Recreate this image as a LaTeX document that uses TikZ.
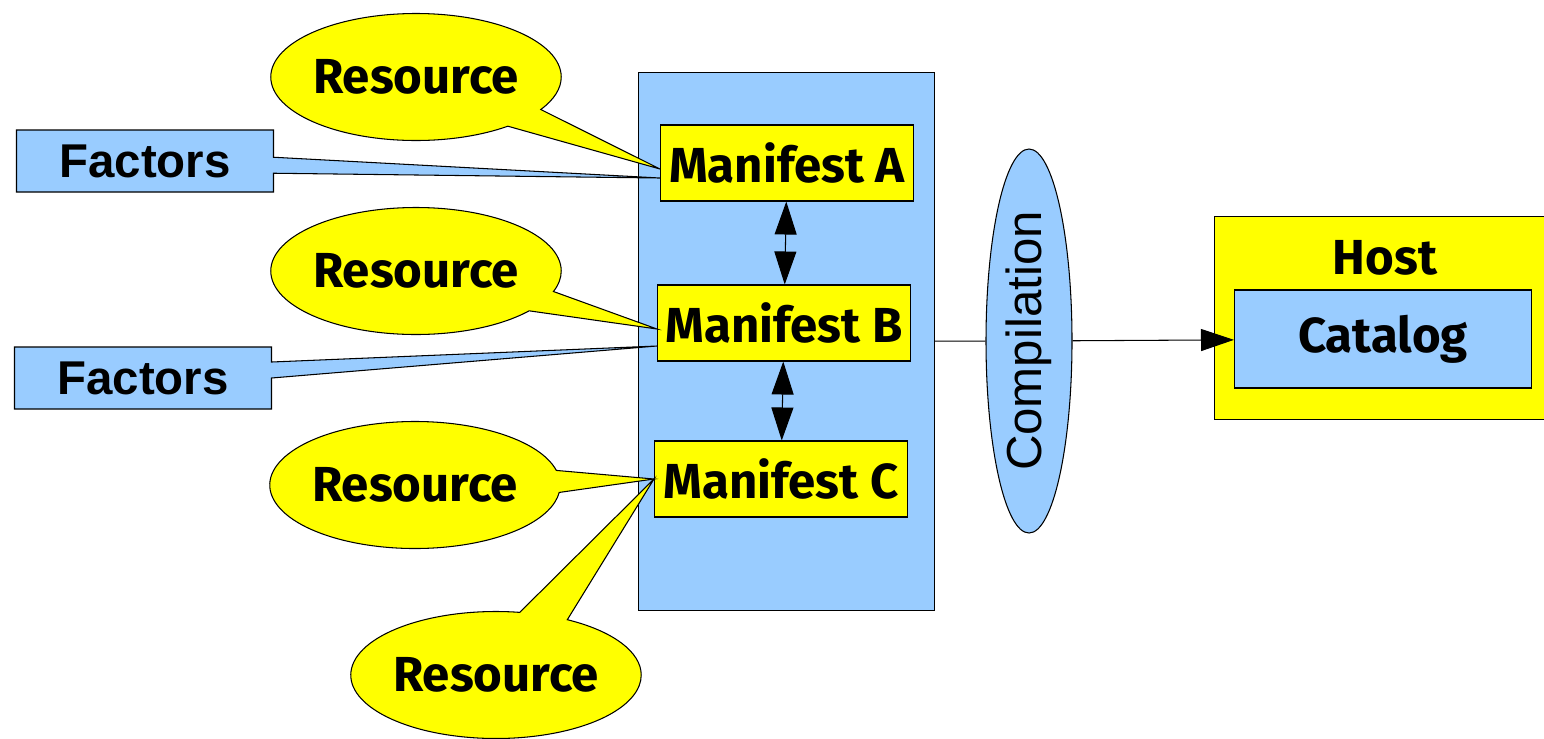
\documentclass[tikz,border=0pt]{standalone}
\usepackage{fontspec}
\setmainfont{Fira Sans}
\newfontfamily\arialfont{Liberation Sans}
\usetikzlibrary{shapes.geometric,shapes.callouts,arrows.meta,calc}
\definecolor{skyblue}{HTML}{99CCFF}
\definecolor{lemon}{HTML}{FFFF00}
\newcommand{\pxl}{0.02cm}

\begin{document}
\begin{tikzpicture}[x=\pxl, y=-\pxl, line width=0.6pt,
    >={Triangle[width=0.44cm,length=0.66cm]},
    label/.style={font=\fontsize{28}{33}\selectfont\bfseries},
    manifest/.style={draw, rectangle, fill=lemon, minimum width=253*\pxl, minimum height=76*\pxl, inner sep=0pt, label},
    resource/.style={ellipse callout, draw, fill=lemon, minimum width=283*\pxl, minimum height=127*\pxl, callout pointer arc=20, inner sep=0pt, label},
    factors/.style={rectangle callout, draw, fill=skyblue, minimum width=257*\pxl, minimum height=62*\pxl, callout pointer width=0.32cm, inner sep=0pt, font=\arialfont\fontsize{27}{31}\selectfont\bfseries},
    compilation/.style={ellipse, draw, fill=skyblue, rotate=90, minimum width=384*\pxl, minimum height=86*\pxl, inner sep=0pt, font=\arialfont\fontsize{28}{32}\selectfont}]
    \useasboundingbox (0,0) rectangle (1544,738);

    % Manifest group
    \node[draw, fill=skyblue, minimum width=296*\pxl, minimum height=538*\pxl, anchor=north west] (group) at (638,72) {};
    \node[manifest] (manA) at (787,163) {Manifest A};
    \node[manifest] (manB) at (784,323) {Manifest B};
    \node[manifest] (manC) at (781,479) {Manifest C};
    \draw[<->] (manA) -- (manB);
    \draw[<->] (manB) -- (manC);

    % Inputs
    \node[resource, callout absolute pointer={($(manA.west)+(0,6)$)}] (res-1) at (416,77) {Resource};
    \node[factors, callout absolute pointer={($(manA.west)+(0,15)$)}] (fac-1) at (145,161) {Factors};
    \node[resource, callout absolute pointer={($(manB.west)+(0,6)$)}] (res-2) at (416,271) {Resource};
    \node[factors, callout absolute pointer={($(manB.west)+(0,23)$)}] (fac-2) at (143,378) {Factors};
    \node[resource, callout absolute pointer={(manC.west)}] (res-3) at (415,485) {Resource};
    \node[resource, callout absolute pointer={(manC.west)}] (res-4) at (496,675) {Resource};

    % Compilation
    \node[compilation] (comp) at (1029,341) {Compilation};
    \draw (group) -- (comp);

    % Host
    \node[draw, fill=lemon, minimum width=340*\pxl, minimum height=203*\pxl, anchor=north west] (host) at (1214,216) {};
    \node[label] (host-label) at (1385,258) {Host};
    \node[draw, fill=skyblue, minimum width=297*\pxl, minimum height=98*\pxl, label] (catalog) at (1383,339) {Catalog};
    \draw[->] (comp) -- (catalog);

\end{tikzpicture}
\end{document}
